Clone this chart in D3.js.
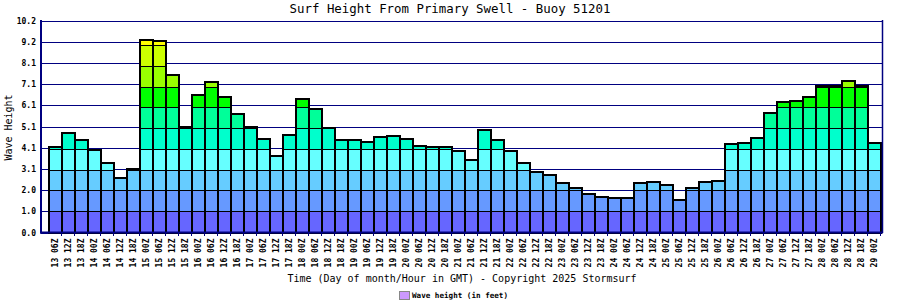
<!doctype html>
<html>
  <head>
    <script src="https://cdnjs.cloudflare.com/ajax/libs/d3/7.8.5/d3.min.js"></script>
  <style>
    body { margin: 0; background: #fff; }
    svg { display: block; font-family: "DejaVu Sans Mono", "Liberation Mono", monospace; }
    .domain { stroke: none; }
  </style>
  </head>
  <body>
    <svg width="900" height="300"></svg>
    <script>
      // time slots (day of month / hour GMT)
      var timeLabels = ["13 06Z","13 12Z","13 18Z",
        "14 00Z","14 06Z","14 12Z","14 18Z",
        "15 00Z","15 06Z","15 12Z","15 18Z",
        "16 00Z","16 06Z","16 12Z","16 18Z",
        "17 00Z","17 06Z","17 12Z","17 18Z",
        "18 00Z","18 06Z","18 12Z","18 18Z",
        "19 00Z","19 06Z","19 12Z","19 18Z",
        "20 00Z","20 06Z","20 12Z","20 18Z",
        "21 00Z","21 06Z","21 12Z","21 18Z",
        "22 00Z","22 06Z","22 12Z","22 18Z",
        "23 00Z","23 06Z","23 12Z","23 18Z",
        "24 00Z","24 06Z","24 12Z","24 18Z",
        "25 00Z","25 06Z","25 12Z","25 18Z",
        "26 00Z","26 06Z","26 12Z","26 18Z",
        "27 00Z","27 06Z","27 12Z","27 18Z",
        "28 00Z","28 06Z","28 12Z","28 18Z",
        "29 00Z"];

      // surf height in feet
      var waveHeight = [4.1, 4.8, 4.45,
        3.95, 3.35, 2.6, 3.05,
        9.25, 9.2, 7.6, 5.1,
        6.6, 7.25, 6.5, 5.7,
        5.1, 4.5, 3.7, 4.7,
        6.4, 5.95, 5.02, 4.45,
        4.45, 4.37, 4.6, 4.65,
        4.5, 4.18, 4.13, 4.12,
        3.94, 3.5, 4.95, 4.45,
        3.9, 3.35, 2.93, 2.75,
        2.4, 2.15, 1.87, 1.73,
        1.68, 1.68, 2.4, 2.45,
        2.3, 1.55, 2.15, 2.45,
        2.5, 4.28, 4.32, 4.57,
        5.77, 6.3, 6.34, 6.54,
        7.05, 7.05, 7.3, 7.05,
        4.32];

      var yTickValues = [0, 1.02, 2.04, 3.06, 4.08, 5.1, 6.12, 7.14, 8.16, 9.18, 10.2];
      var yTickLabels = ["0.0","1.0","2.0","3.1","4.1","5.1","6.1","7.1","8.1","9.2","10.2"];

      // colour bands, one per foot
      var bandBreaks = [0, 1, 2, 3, 4, 5, 6, 7, 8, 9, 10];
      var bandColors = ["#6666ff","#6699ff","#66ccff","#66ffff","#00ffcc",
                        "#00ff99","#00ff00","#99ff00","#ccff00","#ffff00"];

      var navy = "#000080";
      var svg = d3.select("svg");

      var xScale = d3.scaleBand().domain(timeLabels).range([48.5, 880.5]).padding(0);
      var yScale = d3.scaleLinear().domain([0, 10.2]).range([232.5, 20.5]);

      // gridlines + y labels
      var yAxis = d3.axisLeft(yScale)
        .tickValues(yTickValues)
        .tickFormat((d, i) => yTickLabels[i])
        .tickSizeInner(-(882 - 41))
        .tickSizeOuter(0)
        .tickPadding(5);
      var yG = svg.append("g").attr("transform", "translate(41,0)").call(yAxis);
      yG.selectAll(".tick line").attr("stroke", navy).attr("shape-rendering", "crispEdges");
      yG.selectAll(".tick text")
        .attr("fill", "#000")
        .style("font-size", "8px")
        .style("font-weight", "bold")
        .style("font-family", "DejaVu Sans Mono");

      // stacked colour bands
      var bars = svg.selectAll("g.bar")
        .data(waveHeight)
        .enter()
        .append("g")
          .attr("class", "bar");

      bars.each(function(v, i) {
        var g = d3.select(this);
        var x = xScale(timeLabels[i]);
        var segs = d3.range(bandColors.length)
          .filter(k => v > bandBreaks[k])
          .map(k => ({k: k, lo: bandBreaks[k], hi: Math.min(bandBreaks[k + 1], v)}));
        g.selectAll("rect.seg")
          .data(segs)
          .enter()
          .append("rect")
            .attr("class", "seg")
            .attr("x", x)
            .attr("width", xScale.bandwidth())
            .attr("y", d => yScale(d.hi))
            .attr("height", d => yScale(d.lo) - yScale(d.hi))
            .attr("fill", d => bandColors[d.k])
            .attr("stroke", "#000")
            .attr("stroke-width", 1)
            .attr("shape-rendering", "crispEdges");
        g.append("rect")
          .attr("x", x)
          .attr("width", xScale.bandwidth())
          .attr("y", yScale(v))
          .attr("height", yScale(0) - yScale(v))
          .attr("fill", "none")
          .attr("stroke", "#000")
          .attr("stroke-width", 2)
          .attr("shape-rendering", "crispEdges");
      });

      // frame
      svg.append("line").attr("x1", 41).attr("x2", 41).attr("y1", 20).attr("y2", 233.5)
        .attr("stroke", navy).attr("stroke-width", 2);
      svg.append("line").attr("x1", 40).attr("x2", 883).attr("y1", 232.5).attr("y2", 232.5)
        .attr("stroke", navy).attr("stroke-width", 2);
      svg.append("line").attr("x1", 882.5).attr("x2", 882.5).attr("y1", 20).attr("y2", 233)
        .attr("stroke", navy).attr("stroke-width", 1.5);

      // x labels
      var xAxis = d3.axisBottom(xScale).tickSize(0);
      var xG = svg.append("g").attr("transform", "translate(0,232.5)").call(xAxis);
      xG.selectAll(".tick text")
        .attr("transform", "rotate(-90)")
        .attr("x", -6)
        .attr("y", 0)
        .attr("dy", "0.35em")
        .style("text-anchor", "end")
        .style("font-size", "8px")
        .style("font-weight", "bold")
        .style("font-family", "DejaVu Sans Mono");

      // small ticks at slot boundaries
      svg.append("g").selectAll("line")
        .data(timeLabels)
        .enter()
        .append("line")
          .attr("x1", d => xScale(d) + xScale.bandwidth())
          .attr("x2", d => xScale(d) + xScale.bandwidth())
          .attr("y1", 233)
          .attr("y2", 236)
          .attr("stroke", navy);

      // titles
      svg.append("text")
        .attr("x", 450).attr("y", 13)
        .attr("text-anchor", "middle")
        .style("font-size", "12.4px")
        .text("Surf Height From Primary Swell - Buoy 51201");

      svg.append("text")
        .attr("transform", "translate(11.5,127.5) rotate(-90)")
        .attr("text-anchor", "middle")
        .style("font-size", "10px")
        .text("Wave Height");

      svg.append("text")
        .attr("x", 462).attr("y", 281.5)
        .attr("text-anchor", "middle")
        .style("font-size", "10px")
        .text("Time (Day of month/Hour in GMT) - Copyright 2025 Stormsurf");

      // legend
      svg.append("rect")
        .attr("x", 399.5).attr("y", 291.5)
        .attr("width", 10).attr("height", 8)
        .attr("fill", "#cc99ff")
        .attr("stroke", "#888")
        .attr("stroke-width", 1);
      svg.append("text")
        .attr("x", 412).attr("y", 298)
        .style("font-size", "7.6px")
        .style("font-weight", "bold")
        .text("Wave height (in feet)");
    </script>
  </body>
</html>
